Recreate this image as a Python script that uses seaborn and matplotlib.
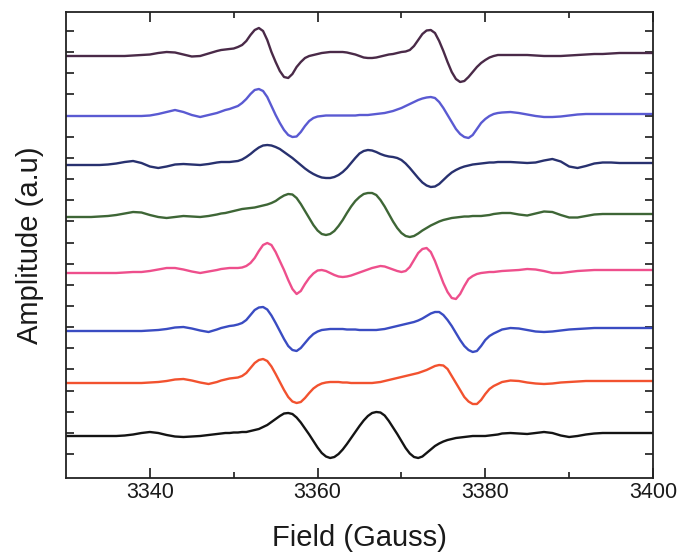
import numpy as np
import pandas as pd
import matplotlib
matplotlib.use("Agg")
import matplotlib.pyplot as plt
import seaborn as sns

# ---- data (arbitrary amplitude units, relative to each trace's baseline) ----
# field grid: 1 G steps on the wings, 0.5 G steps through the resonances
field = list(range(3330, 3348)) + [3348 + 0.5 * i for i in range(69)] + list(range(3383, 3401))

s1 = ([-1, -1, -1, -1, -1, -1, -1, -1, -0.5, 0, 0.5, 2, 3, 2.5, 0.5, -1.5, -1, 1.5]
      + [4, 5, 5.5, 6, 6.5, 8, 10, 14, 20, 25,
         27, 24, 15, 3, -7, -16, -22, -23, -19, -12,
         -7, -3, -1, 0, 1, 2, 2.5, 3, 3, 3,
         3, 2.5, 1.5, 0.5, -1, -2.5, -3, -3, -2.5, -1.5,
         -0.5, 0.5, 1, 2, 3, 3.5, 5, 9, 15, 21,
         24.5, 25, 22, 14, 4, -7, -17, -24, -27, -26,
         -22, -17, -12, -8, -5, -2.5, -1, 0, 0]
      + [0, 0, 0, -0.5, -1, -1, -1, -0.5, 0, 0.5, 1, 1, 1.5, 2, 2, 2, 2, 2])
s2 = ([0, 0, 0, 0, 0, 0, 0, 0, 0, 0, 0.5, 2, 4, 6, 4, 1, -1, 1]
      + [3, 4.5, 6, 7, 8.5, 10, 13, 17, 22, 26,
         27, 25, 19, 10, 1, -7, -14, -19, -21, -20.5,
         -16, -10, -5, -2, -0.5, 0, 0.5, 0.5, 0.5, 0.5,
         0.5, 0.5, 0.5, 0.5, 1, 1, 1, 1.5, 2, 2.5,
         3, 4, 5, 6.5, 8, 10, 12, 14, 16, 17.5,
         18.5, 19, 18, 14, 8, 1, -6, -13, -18, -21,
         -22, -19, -13, -7, -3, 0, 2, 3, 3.5]
      + [4, 3, 1.5, 0, -1, -1, -0.5, 0.5, 1.5, 2, 2, 2, 2, 2, 2, 2, 2, 2])
s3 = ([0, 0, 0, 0, 0, 0.5, 1.5, 3, 4, 2, -1.5, -3, -1.5, 0.5, 1, 0.5, 0, 1]
      + [2.5, 3, 3, 3, 3.5, 4, 5.5, 8, 11, 14.5,
         17.5, 19.5, 20, 19.5, 18, 16, 13, 10, 7, 3.5,
         0, -3.5, -6.5, -9, -11, -12.5, -13, -13, -12, -10,
         -7, -3, 2, 7, 11.5, 14, 15, 14.5, 13, 11,
         9.5, 8.5, 8, 7, 5, 1.5, -3, -8, -13, -17.5,
         -20.5, -22, -21.5, -19, -15, -11, -7.5, -5, -3, -1.5,
         -0.5, 0.5, 1, 1.5, 2, 2.5, 2.5, 3, 3]
      + [3, 2.5, 2, 2.5, 4.5, 6, 3.5, -1.5, -3, -1, 1.5, 2.5, 2.5, 2, 2, 2, 2, 2])
s4 = ([0, 0, 0, 0, 0.5, 1, 2, 3.5, 5, 4.5, 2, 0, -1, 0, 1, 0.5, 0, 1]
      + [2.5, 3.5, 4, 5, 6, 7, 8, 8.5, 9, 9.5,
         10.5, 11.5, 12.5, 14, 16, 19, 21.5, 23, 22.5, 19,
         13, 6, -1, -8, -13.5, -17, -18, -17, -14, -9,
         -3, 4, 10.5, 16, 20, 23, 24, 24, 22, 17,
         10.5, 3, -4.5, -11, -16, -19, -20, -19, -16.5, -13.5,
         -11, -8.5, -6.5, -4.5, -3, -2, -1, -0.5, 0, 0.5,
         0.5, 1, 1, 1, 1.5, 2, 3, 3.5, 4]
      + [4, 2.5, 1.5, 3.5, 5.5, 5, 2, -0.5, -0.5, 1, 2.5, 3, 3, 3, 3, 3, 3, 3])
s5 = ([0, 0, 0, 0, 0, 0, 0, 0.5, 1, 1, 2, 3.5, 5, 5, 3.5, 1.5, 0, 1.5]
      + [3, 4, 4.5, 5, 5, 5, 5.5, 7, 10, 15,
         22, 28, 30, 28, 21, 12, 3, -7, -16, -21,
         -18, -11, -5, -0.5, 2.5, 3, 2, 0, -2, -3.5,
         -4, -3.5, -2.5, -1, 0.5, 2, 3.5, 5, 6, 7,
         6.5, 5, 3.5, 2, 1, 2, 6, 13, 20, 24,
         25, 21, 12, 1, -10, -19, -25, -26, -21, -13,
         -6, -3, -1, 0, 0.5, 1, 1, 1.5, 2]
      + [2.5, 3, 4, 3.5, 2, 0, 0, 1, 2, 2.5, 3, 3, 3, 3, 3, 3, 3, 3])
s6 = ([0, 0, 0, 0, 0, 0, 0, 0, 0, 0, 0.5, 1, 2, 3.5, 4, 2.5, 0.5, -1]
      + [1.5, 3, 4, 5, 5.5, 6.5, 8, 11, 16, 21,
         23.5, 24, 21.5, 15.5, 8, 0, -8, -15, -19, -20,
         -17, -12, -7, -3, -0.5, 1, 1.5, 2, 2, 2,
         2, 1.5, 1.5, 1.5, 1, 1, 1, 1, 1, 1.5,
         2, 3, 4, 5, 6, 7, 8, 9, 10.5, 12.5,
         15, 17.5, 19, 19, 16, 11, 5, -2, -9, -15,
         -19, -21, -20, -15, -9, -5, -2.5, -0.5, 1.5]
      + [3, 2.5, 1, -0.5, -1, -0.5, 0.5, 1.5, 2, 2.5, 3, 3, 3, 3, 3, 3, 3, 3])
s7 = ([0, 0, 0, 0, 0, 0, 0, 0, 0, 0, 0.5, 1, 2, 3.5, 4, 2.5, 0.5, -1]
      + [1, 2.5, 3.5, 4.5, 5, 5.5, 7, 10, 15, 20,
         23, 24, 22, 16.5, 9, 1, -7, -14, -18.5, -20,
         -19, -15, -10, -5.5, -2.5, -0.5, 0.5, 1, 1, 1,
         0.5, 0.5, 0, 0, 0, 0, 0, 0, 0.5, 1,
         2, 3, 4, 5, 6, 7, 8, 9, 10, 11.5,
         13, 15, 17, 18, 17.5, 14, 7, 0, -7, -14,
         -18.5, -21, -21, -17, -11, -6, -3, -1, 1]
      + [2.5, 2, 0.5, -0.5, -1, -0.5, 0.5, 1, 1.5, 2, 2, 2, 2, 2, 2, 2, 2, 2])
s8 = ([0, 0, 0, 0, 0, 0, 0, 0.5, 1.5, 3, 4, 3, 1, -0.5, -1, -0.5, 0, 1]
      + [2, 2.5, 3, 3, 3.5, 3.5, 4, 4, 5, 6,
         7, 9, 11, 14, 17, 20, 22.5, 23, 22, 18.5,
         13.5, 7.5, 1.5, -5, -11.5, -17, -20.5, -22, -21, -18,
         -13.5, -8, -2, 4, 10, 15.5, 20, 23, 24, 23.5,
         20.5, 15, 8.5, 2, -5, -12, -17.5, -21, -22, -20.5,
         -17, -13.5, -10, -7.5, -5.5, -4, -3, -2, -1.5, -1,
         -0.5, 0, 0, 0, 0, 0.5, 1, 1.5, 2.5]
      + [3, 2.5, 2, 3, 4, 3, 0.5, -1, 0, 1.5, 2.5, 3, 3, 3, 3, 3, 3, 3])

traces = [s1, s2, s3, s4, s5, s6, s7, s8]
names = ["S1", "S2", "S3", "S4", "S5", "S6", "S7", "S8"]
offsets = [423, 362, 313, 261, 205, 147, 95, 42]
colors = ["#4a2a48", "#5a5ad2", "#28316f", "#3e6636",
          "#ee4f8c", "#3a4cc2", "#f2522f", "#141414"]

xticks = [3340, 3360, 3380, 3400]

rows = []
for name, sig, off in zip(names, traces, offsets):
    assert len(sig) == len(field), (name, len(sig))
    for f, v in zip(field, sig):
        rows.append((name, f, v + off))
df = pd.DataFrame(rows, columns=["sample", "field", "amp"])

sns.set_style("ticks")
plt.rcParams["font.family"] = ["Liberation Sans", "DejaVu Sans"]
plt.rcParams["text.color"] = "#1a1a1a"
plt.rcParams["axes.labelcolor"] = "#1a1a1a"
plt.rcParams["xtick.color"] = "#1a1a1a"
plt.rcParams["ytick.color"] = "#1a1a1a"

fig = plt.figure(figsize=(6.84, 5.52), dpi=100)
ax = fig.add_axes([66 / 684, 1 - 478 / 552, (653 - 66) / 684, (478 - 12) / 552])

sns.lineplot(data=df, x="field", y="amp", hue="sample", palette=colors,
             hue_order=names, estimator=None, legend=False, linewidth=1.7, ax=ax)

ax.set_xlim(3330, 3400)
ax.set_ylim(0, 466)
ax.set_xticks(xticks)
ax.set_xticks([3350, 3370, 3390], minor=True)
ax.set_xticklabels([str(t) for t in xticks], fontsize=15.5)
ax.set_yticks(np.arange(24, 450, 21.15))
ax.set_yticklabels([])
ax.tick_params(axis="x", which="major", direction="in", length=7, width=1.2,
               top=True, bottom=True, pad=3)
ax.tick_params(axis="x", which="minor", direction="in", length=4, width=1.2,
               top=True, bottom=True)
ax.tick_params(axis="y", direction="in", length=6, width=1.2, left=True, right=True)
for sp in ax.spines.values():
    sp.set_visible(True)
    sp.set_linewidth(1.3)
    sp.set_color("#222222")

ax.set_xlabel("Field (Gauss)", fontsize=21)
ax.xaxis.label.set_va("center")
ax.xaxis.set_label_coords(0.5, -0.128)
ax.set_ylabel("Amplitude (a.u)", fontsize=21)
ax.yaxis.label.set_va("center")
ax.yaxis.set_label_coords(-0.062, 0.5)

fig.savefig("out.png", dpi=100)
